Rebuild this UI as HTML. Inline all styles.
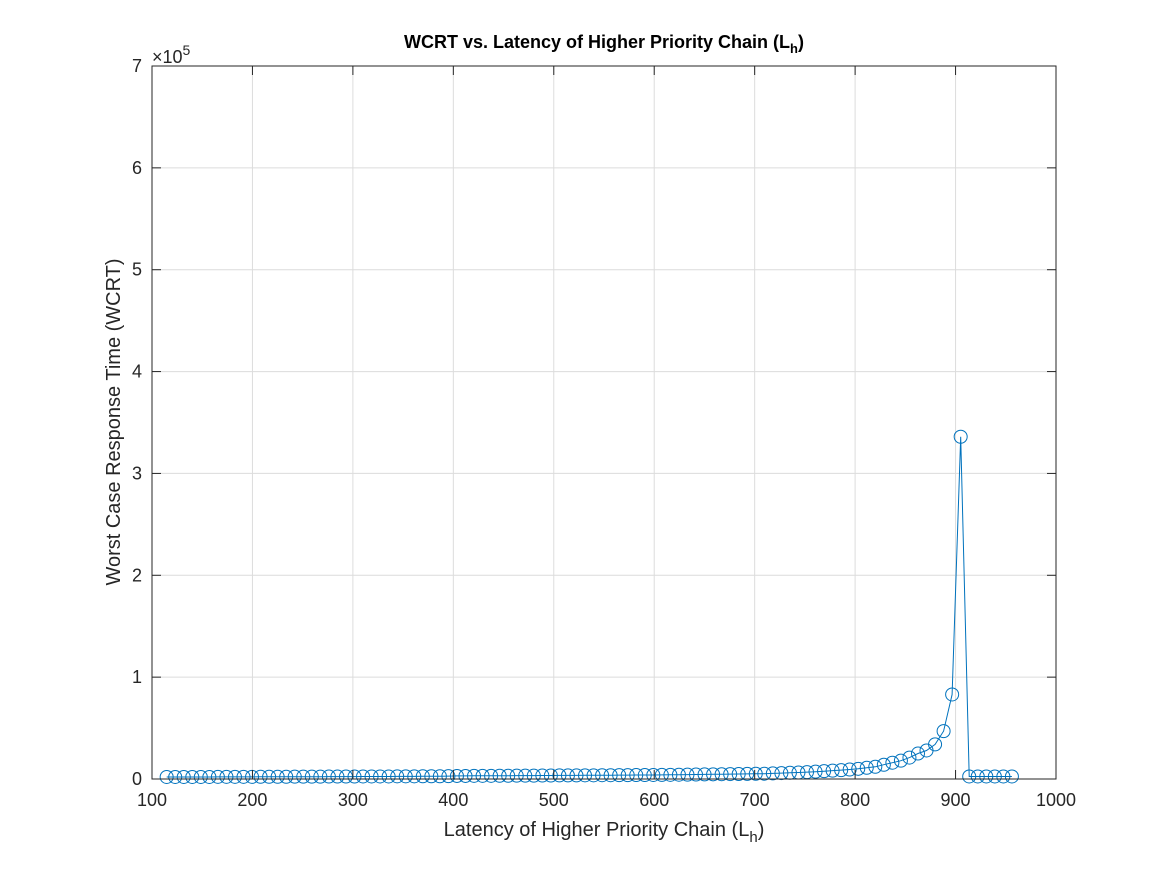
<!DOCTYPE html>
<html><head><meta charset="utf-8"><style>
html,body{margin:0;padding:0;background:#fff;}
svg{display:block;font-family:"Liberation Sans",Arial,sans-serif;}
</style></head><body>
<svg id="chart" width="1167" height="875" viewBox="0 0 1167 875">
<rect x="0" y="0" width="1167" height="875" fill="#fff"/>
<rect x="152" y="66" width="904" height="713" fill="#fff"/>
<g id="grid"></g>
<g id="series"></g>
<rect x="152" y="66" width="904" height="713" fill="none" stroke="#262626" stroke-width="1"/>
<g id="ticks"></g>
<text x="604" y="48" text-anchor="middle" font-size="18" font-weight="bold" fill="#000">WCRT vs. Latency of Higher Priority Chain (L<tspan font-size="13" dy="5">h</tspan><tspan dy="-5">)</tspan></text>
<text x="604" y="836" text-anchor="middle" font-size="20" fill="#262626">Latency of Higher Priority Chain (L<tspan font-size="15" dy="6">h</tspan><tspan dy="-6">)</tspan></text>
<text transform="translate(120,422) rotate(-90)" text-anchor="middle" font-size="20" fill="#262626">Worst Case Response Time (WCRT)</text>
<text x="152" y="63" font-size="18" fill="#262626">×10<tspan font-size="14" dy="-8">5</tspan></text>
</svg>
<script>
const xTicks=[100,200,300,400,500,600,700,800,900,1000];
const yTicks=[0,1,2,3,4,5,6,7];
const xValues=[];
for(let i=0;i<100;i++){xValues.push(Math.round((114.6+8.5*i)*10)/10);}
const wcrtValues=[2.0,2.0,2.0,2.0,2.0,2.0,2.1,2.1,2.1,2.1,2.1,
2.2,2.2,2.2,2.2,2.3,2.3,2.3,2.3,2.4,2.4,2.4,2.4,2.5,2.5,2.5,2.5,2.6,2.6,2.6,2.7,2.7,2.7,2.8,
3.0,3.0,3.1,3.1,3.1,3.2,3.2,3.3,3.3,3.3,3.4,3.4,3.5,3.5,3.5,3.6,3.6,3.7,3.7,3.8,3.8,3.9,3.9,3.95,
4.0,4.1,4.2,4.3,4.4,4.5,4.6,4.7,4.8,4.9,5.0,5.1,
5.2,5.5,5.8,6.1,6.4,6.8,7.2,7.7,8.2,8.7,9.3,
10,11,12,14,16,18,21,25,28,34,47,83,336,
2.5,2.5,2.5,2.5,2.5,2.5];
const NS='http://www.w3.org/2000/svg';
const L=152,R=1056,T=66,B=779;
function sx(v){return L+(v-100)/900*(R-L);}
function sy(v){return B-v/7e5*(B-T);}
const grid=document.getElementById('grid'),ticks=document.getElementById('ticks'),ser=document.getElementById('series');
function mk(tag,attrs,parent){const e=document.createElementNS(NS,tag);for(const k in attrs)e.setAttribute(k,attrs[k]);parent.appendChild(e);return e;}
xTicks.forEach(t=>{const x=sx(t);
 const g=mk('line',{x1:x,x2:x,y1:T,y2:B,stroke:'#dcdcdc','stroke-width':1},grid);
 
 
 const a=mk('line',{x1:x,x2:x,y1:B,y2:B-9,stroke:'#262626'},ticks);
 
 
 const b=mk('line',{x1:x,x2:x,y1:T,y2:T+9,stroke:'#262626'},ticks);
 
 
 const lb=mk('text',{x:x,y:806,'text-anchor':'middle','font-size':18,fill:'#262626'},ticks);lb.textContent=t;
 
 
});
yTicks.forEach(t=>{const y=sy(t*1e5);
 const g=mk('line',{x1:L,x2:R,y1:y,y2:y,stroke:'#dcdcdc','stroke-width':1},grid);
 
 
 const a=mk('line',{x1:L,x2:L+9,y1:y,y2:y,stroke:'#262626'},ticks);
 
 
 const b=mk('line',{x1:R,x2:R-9,y1:y,y2:y,stroke:'#262626'},ticks);
 
 
 const lb=mk('text',{x:L-10,y:y+6,'text-anchor':'end','font-size':18,fill:'#262626'},ticks);lb.textContent=t;
 
 
});
const pts=xValues.map((x,i)=>sx(x).toFixed(1)+','+sy(wcrtValues[i]*1000).toFixed(1)).join(' ');
const pl=mk('polyline',{points:pts,fill:'none',stroke:'#0072BD','stroke-width':1},ser);


xValues.forEach((x,i)=>{const c=mk('circle',{cx:sx(x),cy:sy(wcrtValues[i]*1000),r:6.5,fill:'none',stroke:'#0072BD','stroke-width':1},ser);
 
 
});
</script>
</body></html>
